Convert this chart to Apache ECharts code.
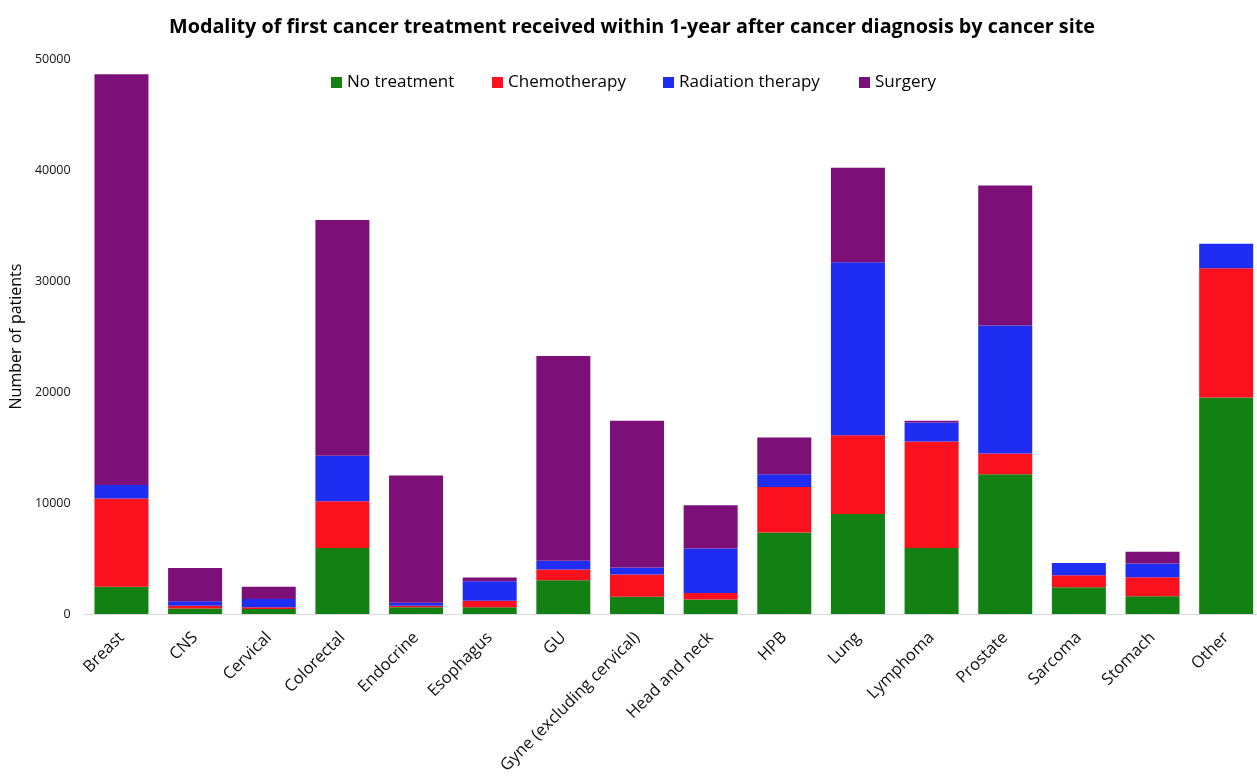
<!DOCTYPE html>
<html lang="en">
<head>
    <meta charset="UTF-8">
    <title>Cancer treatment modality</title>
    <script src="https://cdn.jsdelivr.net/npm/echarts@6/dist/echarts.min.js"></script>
    <style>
        html, body { margin: 0; padding: 0; background: #fff; overflow: hidden; }
    </style>
</head>
<body>
    <!-- the last bar is cut by the picture edge in the original, so the canvas is a bit wider than the window -->
    <div id="main" style="width: 1264px;height:782px;"></div>
    <script type="text/javascript">
        // cancer sites (x axis)
        var sites = ['Breast', 'CNS', 'Cervical', 'Colorectal', 'Endocrine', 'Esophagus', 'GU',
            'Gyne (excluding cervical)', 'Head and neck', 'HPB', 'Lung', 'Lymphoma', 'Prostate',
            'Sarcoma', 'Stomach', 'Other'];

        // number of patients per modality
        var noTreatment = [2450, 500, 450, 5950, 600, 600, 3050, 1550, 1300, 7350, 9000, 5950, 12600, 2400, 1600, 19500];
        var chemotherapy = [7950, 250, 150, 4200, 150, 600, 950, 2000, 600, 4100, 7100, 9600, 1850, 1100, 1700, 11650];
        var radiation = [1230, 400, 750, 4100, 270, 1750, 800, 650, 4000, 1150, 15600, 1700, 11550, 1100, 1250, 2200];
        var surgery = [37000, 3000, 1100, 21250, 11450, 330, 18450, 13200, 3900, 3300, 8500, 150, 12600, 0, 1050, 0];

        var yTicks = [0, 10000, 20000, 30000, 40000, 50000];

        var modalities = ['No treatment', 'Chemotherapy', 'Radiation therapy', 'Surgery'];
        var colors = ['#128012', '#FA111D', '#1F2CF2', '#7D0F78'];
        // left edge of each legend entry
        var legendLeft = [331, 492, 663, 859];

        var myChart = echarts.init(document.getElementById('main'));

        var legends = modalities.map(function (m, i) {
            return {
                data: [m],
                top: 69,
                left: legendLeft[i],
                padding: [5, 0, 5, 0],
                itemWidth: 11,
                itemHeight: 11,
                icon: 'rect',
                textStyle: { fontSize: 17, color: '#000', fontFamily: 'Open Sans' }
            };
        });

        var seriesData = [noTreatment, chemotherapy, radiation, surgery];

        option = {
            backgroundColor: '#fff',
            textStyle: { fontFamily: 'Open Sans' },
            title: {
                text: 'Modality of first cancer treatment received within 1-year after cancer diagnosis by cancer site',
                left: 'center',
                top: 12,
                textStyle: { fontSize: 19.8, fontWeight: 'bold', color: '#000', fontFamily: 'Open Sans' }
            },
            legend: legends,
            grid: {
                left: 83,
                width: 1180,
                top: 59,
                bottom: 168,
                containLabel: false
            },
            xAxis: {
                type: 'category',
                data: sites,
                axisTick: { show: false },
                axisLine: { lineStyle: { color: '#d9d9d9', width: 1 } },
                axisLabel: {
                    rotate: 45,
                    interval: 0,
                    fontSize: 16.5,
                    color: '#111',
                    margin: 21
                }
            },
            yAxis: {
                type: 'value',
                min: yTicks[0],
                max: yTicks[yTicks.length - 1],
                interval: 10000,
                name: 'Number of patients',
                nameLocation: 'middle',
                nameGap: 58,
                nameTextStyle: { fontSize: 16, color: '#000' },
                splitLine: { show: false },
                axisLine: { show: false },
                axisTick: { show: false },
                axisLabel: {
                    fontSize: 12.5,
                    color: '#111',
                    margin: 14,
                    formatter: function (v) { return String(v); }
                }
            },
            series: modalities.map(function (m, i) {
                return {
                    name: m,
                    type: 'bar',
                    stack: 'total',
                    barWidth: 54,
                    data: seriesData[i],
                    itemStyle: { color: colors[i] }
                };
            })
        };

        myChart.setOption(option);
    </script>
</body>
</html>
